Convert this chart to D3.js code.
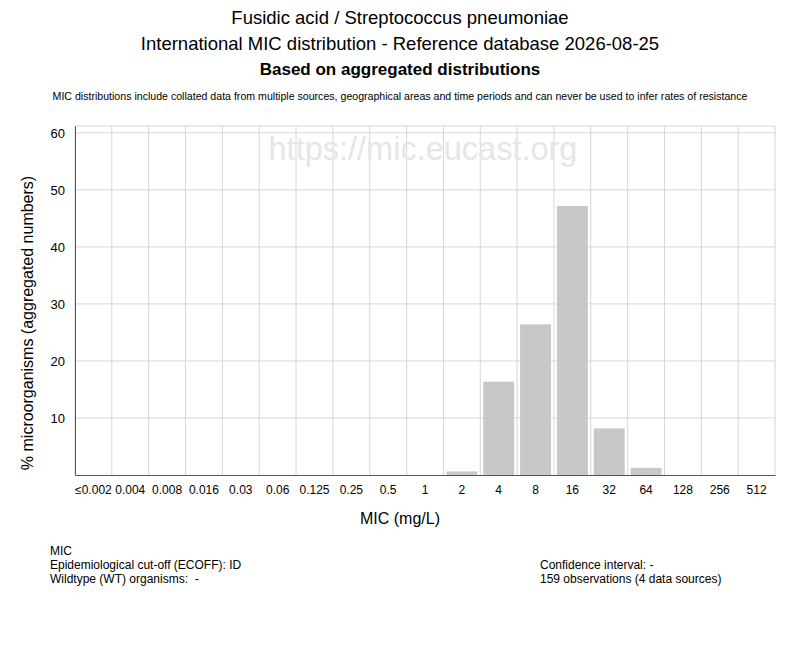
<!DOCTYPE html>
<html>
<head>
<meta charset="utf-8">
<script src="https://cdn.jsdelivr.net/npm/d3@7"></script>
<style>
  body { margin: 0; background: #fff; }
  svg text { font-family: "Liberation Sans", Arial, sans-serif; fill: #000; white-space: pre; }
</style>
</head>
<body>
<div id="chart"></div>
<script>
// MIC classes (mg/L) and share of isolates (%)
const micLabels = ["≤0.002", "0.004", "0.008", "0.016", "0.03", "0.06", "0.125", "0.25", "0.5",
                   "1", "2", "4", "8", "16", "32", "64", "128", "256", "512"];
const counts = [0, 0, 0, 0, 0, 0, 0, 0, 0, 0, 1, 26, 42, 75, 13, 2, 0, 0, 0];
const totalObs = 159;
const percents = counts.map(c => c / totalObs * 100);
const yTicks = [10, 20, 30, 40, 50, 60];

const titleLines = ["Fusidic acid / Streptococcus pneumoniae",
                    "International MIC distribution - Reference database 2026-08-25"];
const subTitle = "Based on aggregated distributions";
const note = "MIC distributions include collated data from multiple sources, geographical areas and time periods and can never be used to infer rates of resistance";
const infoLeft = ["MIC", "Epidemiological cut-off (ECOFF): ID", "Wildtype (WT) organisms:  -"];
const infoRight = ["Confidence interval: -", "159 observations (4 data sources)"];

const width = 800, height = 650;
const margin = { top: 126, right: 25, bottom: 175, left: 75 };
const plotW = width - margin.left - margin.right;
const plotH = height - margin.top - margin.bottom;

const svg = d3.select("#chart").append("svg")
  .attr("width", width)
  .attr("height", height);

// Titles
titleLines.forEach((t, i) => {
  svg.append("text")
    .attr("x", width / 2).attr("y", 24 + i * 26)
    .attr("text-anchor", "middle")
    .style("font-size", "18.5px")
    .text(t);
});
svg.append("text")
  .attr("x", width / 2).attr("y", 75)
  .attr("text-anchor", "middle")
  .style("font-size", "17px")
  .style("font-weight", "bold")
  .text(subTitle);
svg.append("text")
  .attr("x", width / 2).attr("y", 100)
  .attr("text-anchor", "middle")
  .style("font-size", "10.6px")
  .text(note);

const g = svg.append("g")
  .attr("transform", `translate(${margin.left}, ${margin.top})`);

// Scales
const x = d3.scaleBand()
  .domain(micLabels)
  .range([0, plotW])
  .paddingInner(0.16)
  .paddingOuter(0.08);

const y = d3.scaleLinear()
  .domain([0, 61.2])
  .range([plotH, 0]);

// Vertical grid at class boundaries
const bounds = d3.range(micLabels.length + 1).map(i => i * plotW / micLabels.length);
g.append("g").selectAll("line")
  .data(bounds)
  .join("line")
  .attr("x1", d => d).attr("x2", d => d)
  .attr("y1", 0).attr("y2", plotH)
  .style("stroke", "#d6d6d6").style("stroke-width", 1);

// Horizontal grid
g.append("g").selectAll("line")
  .data(yTicks)
  .join("line")
  .attr("x1", 0).attr("x2", plotW)
  .attr("y1", d => y(d)).attr("y2", d => y(d))
  .style("stroke", "#d6d6d6").style("stroke-width", 1);

// Top border
g.append("line")
  .attr("x1", 0).attr("x2", plotW).attr("y1", 0).attr("y2", 0)
  .style("stroke", "#d6d6d6");

// Watermark
g.append("text")
  .attr("x", 348).attr("y", 34)
  .attr("text-anchor", "middle")
  .style("font-size", "32.5px")
  .style("fill", "#e6e6e6")
  .text("https://mic.eucast.org");

// Bars
g.append("g").selectAll("rect")
  .data(micLabels.map((m, i) => ({ mic: m, value: percents[i] })))
  .join("rect")
  .attr("x", d => x(d.mic))
  .attr("y", d => y(d.value))
  .attr("width", x.bandwidth())
  .attr("height", d => plotH - y(d.value))
  .style("fill", "#c8c8c8");

// X axis
const xAxis = g.append("g")
  .attr("transform", `translate(0, ${plotH})`)
  .call(d3.axisBottom(x).tickSize(0).tickPadding(10));
xAxis.select(".domain").style("stroke", "#555");
xAxis.selectAll("text").style("font-size", "12px");

// Y axis
const yAxis = g.append("g")
  .call(d3.axisLeft(y).tickValues(yTicks).tickSize(0).tickPadding(10));
yAxis.select(".domain").style("stroke", "#555");
yAxis.selectAll("text").style("font-size", "13px");

// Axis titles
svg.append("text")
  .attr("x", width / 2).attr("y", 524)
  .attr("text-anchor", "middle")
  .style("font-size", "16px")
  .text("MIC (mg/L)");
svg.append("text")
  .attr("transform", `translate(33, 323) rotate(-90)`)
  .attr("text-anchor", "middle")
  .style("font-size", "16px")
  .text("% microorganisms (aggregated numbers)");

// Info blocks
infoLeft.forEach((t, i) => {
  svg.append("text")
    .attr("x", 50).attr("y", 555 + i * 14)
    .style("font-size", "12px")
    .text(t);
});
infoRight.forEach((t, i) => {
  svg.append("text")
    .attr("x", 540).attr("y", 569 + i * 14)
    .style("font-size", "12px")
    .text(t);
});
</script>
</body>
</html>
